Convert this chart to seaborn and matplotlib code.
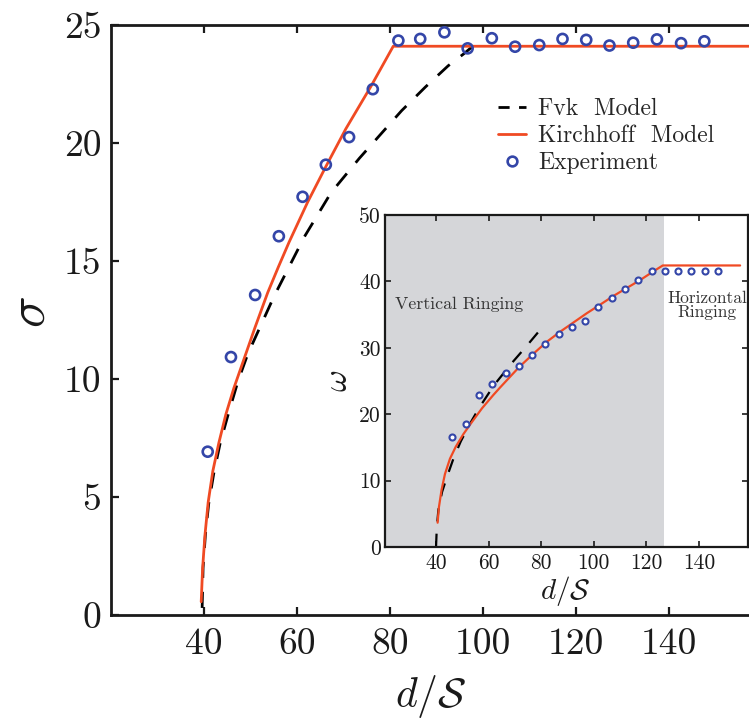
import matplotlib
matplotlib.use("Agg")
import matplotlib.pyplot as plt
from matplotlib.lines import Line2D
import seaborn as sns

# ---------------- data ----------------
# main panel
kirch_x = [39.4, 39.7, 40.2, 40.9, 41.9, 43.2, 44.7, 46.4, 48.7, 51.0, 53.7, 56.0,
           58.3, 62.3, 66.2, 70.5, 75.9, 80.7, 160.0]
kirch_y = [0.56, 1.97, 3.37, 4.78, 6.1, 7.3, 8.5, 9.6, 10.9, 12.2, 13.66, 14.75,
           15.8, 17.5, 19.0, 20.6, 22.4, 24.1, 24.1]
fvk_x = [39.6, 39.8, 40.3, 41.0, 42.1, 43.5, 45.2, 47.3, 49.4, 55.1, 61.6, 67.3,
         73.4, 77.9, 82.5, 87.6, 92.5, 96.0, 97.8]
fvk_y = [0.3, 2.0, 3.4, 4.7, 6.0, 7.3, 8.5, 9.9, 11.05, 13.52, 16.03, 17.89,
         19.35, 20.35, 21.37, 22.37, 23.27, 23.8, 24.1]
exp_x = [40.8, 45.8, 51.0, 56.1, 61.2, 66.2, 71.2, 76.3, 81.8, 86.5, 91.7, 96.7,
         101.9, 106.9, 112.1, 117.1, 122.2, 127.2, 132.3, 137.4, 142.6, 147.6]
exp_y = [6.92, 10.93, 13.56, 16.05, 17.72, 19.08, 20.25, 22.28, 24.34, 24.41, 24.69,
         24.01, 24.44, 24.08, 24.15, 24.41, 24.37, 24.13, 24.25, 24.39, 24.23, 24.31]

# inset panel
in_kirch_x = [40.6, 41.1, 42.1, 43.4, 45.3, 47.5, 50.4, 53.6, 57.5, 61.8, 64.3, 69.0,
              71.6, 77.0, 82.1, 87.1, 92.2, 97.3, 102.4, 107.4, 112.5, 117.6, 122.6,
              126.2, 155.6]
in_kirch_y = [3.66, 6.0, 8.6, 11.0, 13.3, 15.1, 17.0, 18.8, 20.9, 22.9, 24.0, 26.0,
              27.1, 29.1, 30.9, 32.4, 33.8, 35.2, 36.5, 37.8, 39.0, 40.2, 41.5,
              42.4, 42.4]
in_fvk_x = [40.0, 40.3, 40.9, 42.3, 44.2, 46.7, 49.4, 52.8, 56.3, 62.1, 68.8, 74.5, 80.2]
in_fvk_y = [0.0, 3.0, 5.6, 8.3, 10.6, 13.4, 15.9, 18.5, 20.9, 24.4, 27.7, 30.3, 33.0]
in_exp_x = [46.2, 51.3, 56.3, 61.4, 66.5, 71.6, 76.5, 81.6, 86.6, 91.7, 96.8, 101.7,
            106.8, 111.9, 116.9, 122.0, 127.1, 132.0, 137.1, 142.2, 147.2]
in_exp_y = [16.5, 18.5, 22.9, 24.5, 26.2, 27.3, 28.9, 30.5, 32.1, 33.2, 34.1, 36.2,
            37.5, 38.8, 40.2, 41.6, 41.6, 41.6, 41.6, 41.6, 41.6]

main_xticks = [40, 60, 80, 100, 120, 140]
main_yticks = [0, 5, 10, 15, 20, 25]
in_xticks = [40, 60, 80, 100, 120, 140]
in_yticks = [0, 10, 20, 30, 40, 50]
vertical_end = 126.5

labels = ["Fvk  Model", "Kirchhoff  Model", "Experiment"]

# ---------------- style ----------------
sns.set_style("ticks")
plt.rcParams["font.family"] = "serif"
plt.rcParams["font.serif"] = ["cmr10", "DejaVu Serif"]
plt.rcParams["mathtext.fontset"] = "cm"
plt.rcParams["axes.unicode_minus"] = False
plt.rcParams["axes.formatter.use_mathtext"] = False

RED = "#f04a23"
BLUE = "#3446a8"
GRAY = "#d5d6d9"
INK = "#1a1a1a"

W, H = 749, 719
fig = plt.figure(figsize=(W / 100, H / 100), dpi=100)

# main axes (extends past the right edge like the reference)
ax = fig.add_axes([111 / W, 1 - 615 / H, 651 / W, 590 / H])
ax.set_xlim(20, 160)
ax.set_ylim(0, 25)

sns.lineplot(x=fvk_x, y=fvk_y, ax=ax, color="black", lw=2.0, estimator=None,
             sort=False, linestyle=(0, (5.8, 5.0)), legend=False)
sns.lineplot(x=kirch_x, y=kirch_y, ax=ax, color=RED, lw=2.0, estimator=None,
             sort=False, legend=False)
sns.scatterplot(x=exp_x, y=exp_y, ax=ax, marker="o", s=52, facecolor="none",
                edgecolor=BLUE, linewidth=1.9, legend=False, zorder=5)

ax.set_xticks(main_xticks)
ax.set_yticks(main_yticks)
ax.tick_params(direction="in", length=6, width=1.6, labelsize=27, top=True,
               right=False, colors=INK)
ax.tick_params(axis="x", pad=9)
ax.tick_params(axis="y", pad=7)
for sp in ax.spines.values():
    sp.set_linewidth(2.0)
    sp.set_color(INK)
ax.spines["right"].set_visible(False)

ax.set_xlabel(r"$d/\mathcal{S}$", fontsize=30, color=INK, va="center", ha="center")
ax.set_ylabel(r"$\sigma$", fontsize=38, color=INK, va="center", ha="center",
              rotation_mode="default")
ax.xaxis.set_label_coords((431 - 111) / 651, (615 - 697) / 590)
ax.yaxis.set_label_coords((31 - 111) / 651, (615 - 312) / 590)

handles = [
    Line2D([], [], color="black", lw=2.0, dashes=(4.0, 3.4)),
    Line2D([], [], color=RED, lw=2.0),
    Line2D([], [], color=BLUE, lw=0, marker="o", markersize=7.0,
           markerfacecolor="none", markeredgewidth=1.9),
]
ax.legend(handles, labels, loc="upper left", bbox_to_anchor=(498 / W, 1 - 98 / H),
          bbox_transform=fig.transFigure, frameon=False, fontsize=17,
          handlelength=1.2, handletextpad=0.5, labelspacing=0.2,
          borderpad=0, borderaxespad=0)

# inset axes
axi = fig.add_axes([385 / W, 1 - 547 / H, 363 / W, 332 / H])
axi.set_xlim(20.6, 158.6)
axi.set_ylim(0, 50)
axi.axvspan(20.6, vertical_end, color=GRAY, lw=0, zorder=0)

sns.lineplot(x=in_fvk_x, y=in_fvk_y, ax=axi, color="black", lw=1.6, estimator=None,
             sort=False, linestyle=(0, (6.0, 5.5)), legend=False)
sns.lineplot(x=in_kirch_x, y=in_kirch_y, ax=axi, color=RED, lw=1.6, estimator=None,
             sort=False, legend=False)
sns.scatterplot(x=in_exp_x, y=in_exp_y, ax=axi, marker="o", s=19, facecolor="white",
                edgecolor=BLUE, linewidth=1.5, legend=False, zorder=5)

axi.set_xticks(in_xticks)
axi.set_yticks(in_yticks)
axi.tick_params(direction="in", length=4, width=1.2, labelsize=15.5, top=True,
                right=True, colors=INK)
axi.tick_params(axis="x", pad=5)
axi.tick_params(axis="y", pad=3)
for sp in axi.spines.values():
    sp.set_linewidth(1.6)
    sp.set_color(INK)

axi.set_xlabel(r"$d/\mathcal{S}$", fontsize=21, color=INK, va="center", ha="center")
axi.set_ylabel(r"$\omega$", fontsize=24, color=INK, va="center", ha="center",
               rotation_mode="default")
axi.xaxis.set_label_coords((565 - 385) / 363, (547 - 591) / 332)
axi.yaxis.set_label_coords((338 - 385) / 363, (547 - 381) / 332)

axi.text(24.4, 35.9, "Vertical Ringing", fontsize=12.8, color="#333333",
         ha="left", va="baseline")
axi.text(143.0, 36.4, "Horizontal\nRinging", fontsize=12.5, color="#333333",
         ha="center", va="center", multialignment="center", linespacing=0.95)

fig.savefig("out.png", dpi=100)
